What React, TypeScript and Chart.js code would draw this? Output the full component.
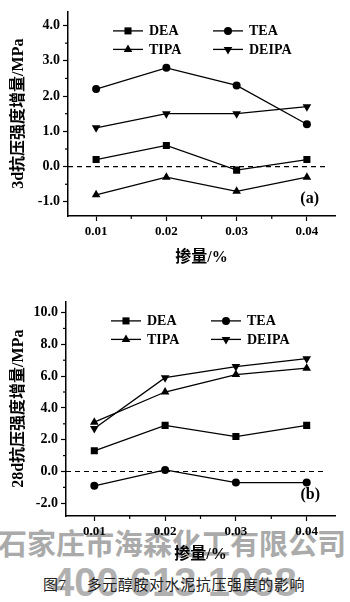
import React, { useEffect, useRef } from 'react';
import { Chart, registerables } from 'chart.js';

Chart.register(...registerables);

// ---------- data ----------
const dosage = [0.01, 0.02, 0.03, 0.04];
const seriesNames = ['DEA', 'TEA', 'TIPA', 'DEIPA'];

// 3d compressive strength increment (MPa)
const dea3d = [0.2, 0.6, -0.1, 0.2];
const tea3d = [2.2, 2.8, 2.3, 1.2];
const tipa3d = [-0.8, -0.3, -0.7, -0.3];
const deipa3d = [1.1, 1.5, 1.5, 1.7];

// 28d compressive strength increment (MPa)
const dea28d = [1.3, 2.9, 2.2, 2.9];
const tea28d = [-0.9, 0.1, -0.7, -0.7];
const tipa28d = [3.1, 5.0, 6.1, 6.5];
const deipa28d = [2.7, 5.9, 6.6, 7.1];

const zeroLineX = [0.006, 0.0428];

const xTitle = '掺量/%';
const yTitle3d = '3d抗压强度增量/MPa';
const yTitle28d = '28d抗压强度增量/MPa';
const panelA = '(a)';
const panelB = '(b)';
const caption = '图7\u3000 多元醇胺对水泥抗压强度的影响';
const watermark1 = '石家庄市海森化工有限公司';
const watermark2 = '400 613 1068';

// ---------- styles ----------
const pointStyles = ['rect', 'circle', 'triangle', 'triangle'];
const pointRotations = [0, 0, 0, 180];
const pointRadii = [5, 4, 5, 5];
const serifFam = "'Liberation Serif', 'Noto Sans CJK SC', serif";
const legendDx = [45, 145];
const legendDy = [19.5, 38];

function drawMarker(ctx: CanvasRenderingContext2D, style: string, rotDeg: number, r: number, x: number, y: number) {
  ctx.beginPath();
  if (style === 'rect') {
    const s = r / Math.SQRT2;
    ctx.rect(x - s, y - s, 2 * s, 2 * s);
  } else if (style === 'circle') {
    ctx.arc(x, y, r, 0, Math.PI * 2);
  } else {
    let rad = (rotDeg * Math.PI) / 180;
    const step = (2 * Math.PI) / 3;
    ctx.moveTo(x + Math.sin(rad) * r, y - Math.cos(rad) * r);
    rad += step;
    ctx.lineTo(x + Math.sin(rad) * r, y - Math.cos(rad) * r);
    rad += step;
    ctx.lineTo(x + Math.sin(rad) * r, y - Math.cos(rad) * r);
    ctx.closePath();
  }
  ctx.fill();
}

const overlayPlugin = {
  id: 'overlay',
  afterDraw(chart: any, _args: any, opts: any) {
    const { ctx, chartArea, scales } = chart;
    ctx.save();
    // minor ticks
    ctx.strokeStyle = '#000';
    ctx.lineWidth = 1.2;
    const xs = scales.x;
    const ys = scales.y;
    const xStep = opts.xMinor;
    for (let k = Math.ceil(xs.min / xStep - 1e-9); k <= Math.floor(xs.max / xStep + 1e-9); k++) {
      if (k % 2 === 0) continue;
      const px = xs.getPixelForValue(k * xStep);
      ctx.beginPath();
      ctx.moveTo(px, chartArea.bottom);
      ctx.lineTo(px, chartArea.bottom + 3);
      ctx.stroke();
    }
    const yStep = opts.yMinor;
    for (let k = Math.ceil(ys.min / yStep - 1e-9); k <= Math.floor(ys.max / yStep + 1e-9); k++) {
      if (Math.abs(k) % 2 === 0) continue;
      const py = ys.getPixelForValue(k * yStep);
      ctx.beginPath();
      ctx.moveTo(chartArea.left, py);
      ctx.lineTo(chartArea.left - 3, py);
      ctx.stroke();
    }
    // legend
    ctx.font = `bold 14px ${serifFam}`;
    ctx.textBaseline = 'middle';
    ctx.textAlign = 'left';
    ctx.fillStyle = '#000';
    for (let i = 0; i < seriesNames.length; i++) {
      const ds = chart.data.datasets[i];
      const x0 = chartArea.left + legendDx[i % 2];
      const y0 = chartArea.top + legendDy[Math.floor(i / 2)];
      ctx.lineWidth = 1.3;
      ctx.beginPath();
      ctx.moveTo(x0, y0);
      ctx.lineTo(x0 + 30, y0);
      ctx.stroke();
      drawMarker(ctx, ds.pointStyle, ds.pointRotation, ds.pointRadius, x0 + 15, y0);
      ctx.fillText(ds.label, x0 + 36, y0 + 0.5);
    }
    // panel label
    ctx.font = `bold 16px ${serifFam}`;
    ctx.textAlign = 'right';
    ctx.fillText(opts.panel, chartArea.right + opts.panelDx, chartArea.bottom + opts.panelDy);
    ctx.restore();
  },
};

type PanelCfg = {
  top: number;
  height: number;
  padTop: number;
  padRight: number;
  yWidth: number;
  xHeight: number;
  yMin: number;
  yMax: number;
  yStep: number;
  yMinor: number;
  yTitle: string;
  xTitlePad: number;
  panel: string;
  panelDx: number;
  panelDy: number;
  values: number[][];
};

function makeConfig(c: PanelCfg): any {
  const datasets: any[] = seriesNames.map((name, i) => ({
    label: name,
    data: dosage.map((x, j) => ({ x, y: c.values[i][j] })),
    borderColor: '#000',
    backgroundColor: '#000',
    borderWidth: 1.3,
    pointStyle: pointStyles[i],
    pointRotation: pointRotations[i],
    pointRadius: pointRadii[i],
    pointBorderWidth: 0,
    tension: 0,
  }));
  datasets.push({
    label: '',
    data: zeroLineX.map((x) => ({ x, y: 0 })),
    borderColor: '#000',
    borderWidth: 1.2,
    borderDash: [5, 4],
    pointRadius: 0,
    tension: 0,
  });
  return {
    type: 'line',
    data: { datasets },
    options: {
      animation: false,
      responsive: false,
      events: [],
      layout: { padding: { top: c.padTop, right: c.padRight, left: 0, bottom: 0 } },
      plugins: {
        legend: { display: false },
        tooltip: { enabled: false },
        overlay: { xMinor: 0.005, yMinor: c.yMinor, panel: c.panel, panelDx: c.panelDx, panelDy: c.panelDy },
      },
      scales: {
        x: {
          type: 'linear',
          min: 0.006,
          max: 0.044,
          afterFit: (s: any) => {
            s.height = c.xHeight;
          },
          ticks: {
            stepSize: 0.01,
            includeBounds: false,
            autoSkip: false,
            maxRotation: 0,
            padding: 3,
            color: '#000',
            font: { family: serifFam, size: 13, weight: 'bold' },
            callback: (v: number) => v.toFixed(2),
          },
          grid: { drawOnChartArea: false, drawTicks: true, tickLength: 5, tickColor: '#000', tickWidth: 1.2 },
          border: { display: true, color: '#000', width: 1.5 },
          title: {
            display: true,
            text: xTitle,
            color: '#000',
            font: { family: serifFam, size: 16, weight: 'bold' },
            padding: { top: 0, bottom: c.xTitlePad },
          },
        },
        y: {
          type: 'linear',
          min: c.yMin,
          max: c.yMax,
          afterFit: (s: any) => {
            s.width = c.yWidth;
          },
          ticks: {
            stepSize: c.yStep,
            includeBounds: false,
            autoSkip: false,
            padding: 3,
            color: '#000',
            font: { family: serifFam, size: 14, weight: 'bold' },
            callback: (v: number) => v.toFixed(1),
          },
          grid: { drawOnChartArea: false, drawTicks: true, tickLength: 5, tickColor: '#000', tickWidth: 1.2 },
          border: { display: true, color: '#000', width: 1.5 },
          title: {
            display: true,
            text: c.yTitle,
            color: '#000',
            font: { family: serifFam, size: 16, weight: 'bold' },
            padding: { top: 9, bottom: 0 },
          },
        },
      },
    },
    plugins: [overlayPlugin],
  };
}

const cfgA: PanelCfg = {
  top: 0,
  height: 270,
  padTop: 5,
  padRight: 15,
  yWidth: 68,
  xHeight: 54,
  yMin: -1.4,
  yMax: 4.4,
  yStep: 1,
  yMinor: 0.5,
  yTitle: yTitle3d,
  xTitlePad: 3,
  panel: panelA,
  panelDx: -16,
  panelDy: -17,
  values: [dea3d, tea3d, tipa3d, deipa3d],
};

const cfgB: PanelCfg = {
  top: 290,
  height: 275,
  padTop: 10,
  padRight: 15,
  yWidth: 66,
  xHeight: 49,
  yMin: -2.8,
  yMax: 10.7,
  yStep: 2,
  yMinor: 1,
  yTitle: yTitle28d,
  xTitlePad: 1,
  panel: panelB,
  panelDx: -15,
  panelDy: -21,
  values: [dea28d, tea28d, tipa28d, deipa28d],
};

function PanelChart({ cfg }: { cfg: PanelCfg }) {
  const ref = useRef<HTMLCanvasElement>(null);
  useEffect(() => {
    const chart = new Chart(ref.current as HTMLCanvasElement, makeConfig(cfg));
    return () => chart.destroy();
  }, [cfg]);
  return (
    <canvas
      ref={ref}
      width={350}
      height={cfg.height}
      style={{ position: 'absolute', left: 0, top: cfg.top, width: 350, height: cfg.height, display: 'block', zIndex: 2 }}
    />
  );
}

export default function App() {
  return (
    <div
      style={{
        position: 'absolute',
        left: 0,
        top: 0,
        width: 350,
        height: 602,
        overflow: 'hidden',
        background: '#fff',
      }}
    >
      <div
        style={{
          position: 'absolute',
          left: -2,
          top: 528,
          whiteSpace: 'nowrap',
          font: "bold 29px 'Noto Sans CJK SC', sans-serif",
          lineHeight: '29px',
          color: '#aaaaaa',
          zIndex: 1,
        }}
      >
        {watermark1}
      </div>
      <div
        style={{
          position: 'absolute',
          left: 52,
          top: 562,
          whiteSpace: 'pre',
          font: "bold 40px 'Liberation Sans', sans-serif",
          lineHeight: '40px',
          color: '#b0b0b0',
          zIndex: 1,
        }}
      >
        {watermark2}
      </div>
      <PanelChart cfg={cfgA} />
      <PanelChart cfg={cfgB} />
      <div
        style={{
          position: 'absolute',
          left: 43,
          top: 577,
          whiteSpace: 'pre',
          font: "15px 'Liberation Serif', 'Noto Sans CJK SC', serif",
          letterSpacing: '0.6px',
          lineHeight: '16px',
          color: '#222',
          zIndex: 3,
        }}
      >
        {caption}
      </div>
    </div>
  );
}
